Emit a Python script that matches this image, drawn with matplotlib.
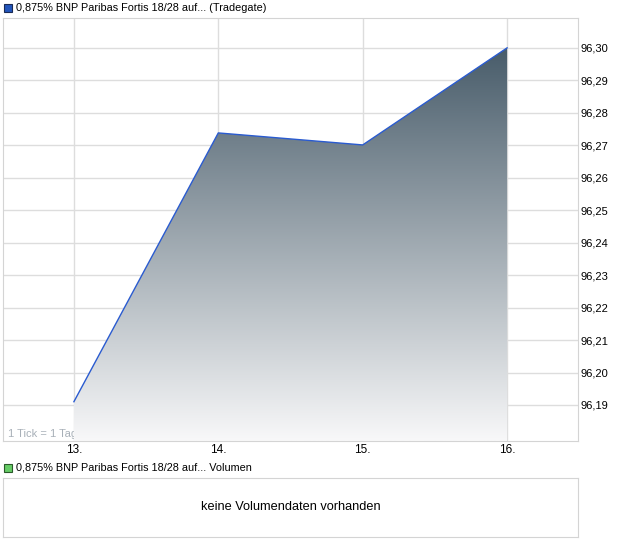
import numpy as np
import matplotlib
matplotlib.use('Agg')
import matplotlib.pyplot as plt
from matplotlib.patches import Polygon, Rectangle
from matplotlib.ticker import FuncFormatter

# Daten
tage = [13, 14, 15, 16]
kurse = [96.191, 96.2738, 96.2701, 96.30]
y_ticks = [96.19, 96.20, 96.21, 96.22, 96.23, 96.24, 96.25, 96.26, 96.27, 96.28, 96.29, 96.30]
x_labels = ['13.', '14.', '15.', '16.']
titel = '0,875% BNP Paribas Fortis 18/28 auf... (Tradegate)'
titel_vol = '0,875% BNP Paribas Fortis 18/28 auf... Volumen'

plt.rcParams['font.family'] = ['Liberation Sans', 'DejaVu Sans']

W, H = 620, 546
fig = plt.figure(figsize=(W / 100, H / 100), dpi=100)


def px_axes(x0, y0, x1, y1):
    return fig.add_axes([x0 / W, 1 - y1 / H, (x1 - x0) / W, (y1 - y0) / H])


ax = px_axes(3, 18, 578, 441)
ymin, ymax = 96.1789, 96.3092
ax.set_xlim(12.509, 16.491)
ax.set_ylim(ymin, ymax)

# Gitter
ax.set_yticks(y_ticks)
ax.set_xticks(tage)
ax.grid(True, color='#dddddd', linewidth=1)
ax.set_axisbelow(True)
for s in ax.spines.values():
    s.set_color('#d4d4d4')
ax.tick_params(length=0)
ax.yaxis.tick_right()
ax.yaxis.set_major_formatter(FuncFormatter(lambda v, p: f'{v:.2f}'.replace('.', ',')))
ax.tick_params(axis='y', labelsize=8, pad=2)
ax.set_xticks(tage)
ax.set_xticklabels(x_labels, fontsize=8.5)
ax.tick_params(axis='x', pad=2)

ax.text(0.008, 0.005, '1 Tick = 1 Tag', transform=ax.transAxes, fontsize=8,
        color='#a8b0b8', va='bottom', ha='left', zorder=1)

# Verlaufsfüllung
grad = np.linspace(0, 1, 256).reshape(-1, 1)
c_top = np.array([0x48, 0x5c, 0x6a]) / 255
c_bot = np.array([0xf8, 0xf8, 0xf9]) / 255
img = c_bot + (c_top - c_bot) * grad[..., None]
im = ax.imshow(img, extent=[tage[0], tage[-1], ymin, kurse[-1]], origin='lower',
               aspect='auto', zorder=2)
poly = Polygon([(tage[0], ymin)] + list(zip(tage, kurse)) + [(tage[-1], ymin)],
               closed=True, transform=ax.transData, facecolor='none', edgecolor='none')
ax.add_patch(poly)
im.set_clip_path(poly)
ax.plot(tage, kurse, color='#2a5bd0', linewidth=1, zorder=3)
ax.set_xlim(12.509, 16.491)
ax.set_ylim(ymin, ymax)

# Legenden
fig.patches.append(Rectangle((4 / W, 1 - 12 / H), 8 / W, 8 / H, transform=fig.transFigure,
                             facecolor='#2255bb', edgecolor='#1a2a55', linewidth=0.8))
fig.text(16 / W, 1 - 8 / H, titel, fontsize=7.8, va='center', ha='left')
fig.patches.append(Rectangle((4 / W, 1 - 472 / H), 8 / W, 8 / H, transform=fig.transFigure,
                             facecolor='#66cc66', edgecolor='#2a5a2a', linewidth=0.8))
fig.text(16 / W, 1 - 468 / H, titel_vol, fontsize=7.8, va='center', ha='left')

# Volumen-Panel
axv = px_axes(3, 478, 578, 537)
axv.set_xticks([])
axv.set_yticks([])
for s in axv.spines.values():
    s.set_color('#d4d4d4')
axv.text(0.5, 0.5, 'keine Volumendaten vorhanden', transform=axv.transAxes,
         ha='center', va='center', fontsize=9.2)

fig.savefig('out.png', dpi=100)
